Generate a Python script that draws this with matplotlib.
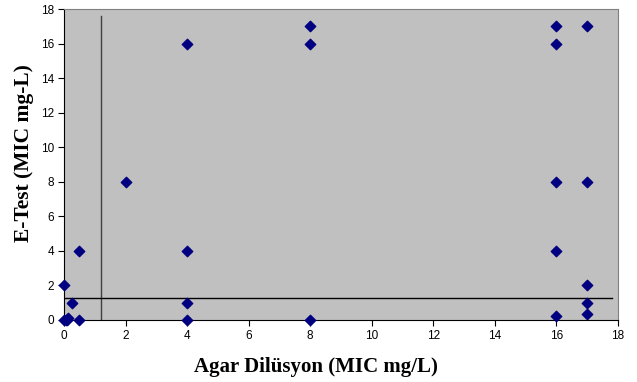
import matplotlib
matplotlib.use("Agg")
import matplotlib.pyplot as plt
import numpy as np

# Agar dilution vs E-test MIC values
agar = [0, 0.05, 0.1, 0.12, 0, 0.25, 0.5, 0.5, 2, 4, 4, 4, 4,
        8, 8, 8, 16, 16, 16, 16, 16, 17, 17, 17, 17, 17]
etest = [0, 0, 0, 0.1, 2, 1, 4, 0, 8, 16, 4, 1, 0,
         17, 16, 0, 17, 16, 8, 4, 0.25, 17, 8, 2, 1, 0.35]

cut_x = 1.2
cut_y = 1.3

fig = plt.figure(figsize=(6.37, 3.82), dpi=100)
ax = fig.add_axes([64/637, 62/382, 554/637, 311/382])
ax.set_facecolor('#c0c0c0')

ax.plot([cut_x, cut_x], [0, 17.6], color='#404040', lw=1)
ax.plot([0, 17.8], [cut_y, cut_y], color='black', lw=1)
ax.scatter(agar, etest, marker='D', s=28, color='#000080', zorder=3, clip_on=False)

ax.set_xlim(0, 18)
ax.set_ylim(0, 18)
ax.set_xticks(np.arange(0, 19, 2))
ax.set_yticks(np.arange(0, 19, 2))
for s in ['top', 'right']:
    ax.spines[s].set_color('#808080')
for s in ['left', 'bottom']:
    ax.spines[s].set_color('black')
ax.tick_params(direction='out', length=4, labelsize=8.5, pad=3)
for lab in ax.get_xticklabels() + ax.get_yticklabels():
    lab.set_fontfamily('Liberation Sans')

ax.set_xlabel('Agar Dilüsyon (MIC mg/L)', fontfamily='Liberation Serif',
              fontweight='bold', fontsize=15)
ax.xaxis.set_label_coords(0.455, -0.12)
ax.set_ylabel('E-Test (MIC mg-L)', fontfamily='Liberation Serif',
              fontweight='bold', fontsize=15.5)
ax.yaxis.set_label_coords(-0.054, 0.537)

plt.savefig('out.png', dpi=100)
